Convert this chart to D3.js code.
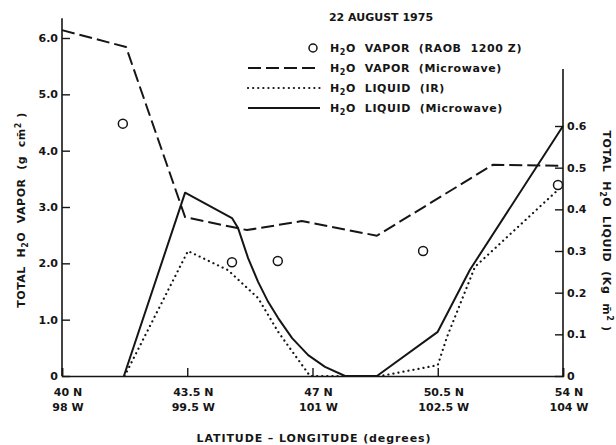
<!DOCTYPE html>
<html>
<head>
<meta charset="utf-8">
<script src="https://cdn.jsdelivr.net/npm/d3@7"></script>
<style>
body { margin: 0; background: #fff; }
text { font-family: "DejaVu Sans", sans-serif; font-weight: bold; fill: #151515; white-space: pre; }
</style>
</head>
<body>
<div id="chart"></div>
<script>
// tick positions along the flight track
var tickLat = [40, 43.5, 47, 50.5, 54];
var tickLon = ["98 W", "99.5 W", "101 W", "102.5 W", "104 W"];

// H2O vapor, microwave (g cm-2)
var vaporMwLat = [40, 41.79, 43.44, 45.17, 46.7, 48.8, 52.04, 54];
var vaporMw = [6.14, 5.84, 2.82, 2.59, 2.75, 2.49, 3.75, 3.73];

// H2O vapor, RAOB 1200 Z (g cm-2)
var raobLat = [41.7, 44.75, 46.03, 50.09, 53.86];
var raob = [4.48, 2.02, 2.04, 2.22, 3.39];

// H2O liquid, microwave (kg m-2)
var liquidMwLat = [41.73, 43.44, 44.75, 44.92, 45.2, 45.48, 45.76, 46.04, 46.43, 46.88, 47.35, 47.91, 48.8, 50.5, 51.4, 54];
var liquidMw = [0, 0.44, 0.379, 0.355, 0.283, 0.226, 0.178, 0.139, 0.091, 0.05, 0.022, 0, 0, 0.106, 0.255, 0.6];

// H2O liquid, IR (kg m-2)
var liquidIrLat = [41.75, 43.52, 44.64, 45.48, 46.04, 46.71, 46.93, 48.9, 50.5, 50.76, 51.54, 53.9];
var liquidIr = [0, 0.30, 0.254, 0.187, 0.106, 0.026, 0, 0, 0.026, 0.094, 0.262, 0.45];

var vaporTicks = [0, 1, 2, 3, 4, 5, 6];
var liquidTicks = [0, 0.1, 0.2, 0.3, 0.4, 0.5, 0.6];

var w = 616, h = 445;

var svg = d3.select("#chart").append("svg")
    .attr("width", w)
    .attr("height", h);

var x = d3.scaleLinear().domain([40, 54]).range([62, 563]);
var yL = d3.scaleLinear().domain([0, 6]).range([376, 38]);
var yR = d3.scaleLinear().domain([0, 0.6]).range([376, 126]);

function fmt(d) { return d === 0 ? "0" : d.toFixed(1); }

// left axis
var gl = svg.append("g")
    .attr("transform", "translate(" + x(40) + ",0)")
    .call(d3.axisLeft(yL).tickValues(vaporTicks).tickSize(-8).tickPadding(4).tickFormat(fmt));
gl.select(".domain").remove();
gl.append("line").attr("y1", yL(0)).attr("y2", yL(6.35)).attr("stroke", "#151515").attr("stroke-width", 1.6);

// right axis
var gr = svg.append("g")
    .attr("transform", "translate(" + x(54) + ",0)")
    .call(d3.axisRight(yR).tickValues(liquidTicks).tickSize(-8).tickPadding(4).tickFormat(fmt));
gr.select(".domain").remove();
gr.append("line").attr("y1", yR(0)).attr("y2", yR(0.737)).attr("stroke", "#151515").attr("stroke-width", 1.6);

// bottom axis
var gb = svg.append("g")
    .attr("transform", "translate(0," + yL(0) + ")")
    .call(d3.axisBottom(x).tickValues(tickLat).tickSize(-8).tickFormat(""));
gb.select(".domain").attr("stroke-width", 1.6).attr("stroke", "#151515");

svg.selectAll(".tick line").attr("stroke", "#151515").attr("stroke-width", 1.4);
svg.selectAll(".tick text").style("font-size", "11px").style("font-family", "DejaVu Sans, sans-serif").style("font-weight", "bold").attr("fill", "#151515");

var xl = svg.append("g");
tickLat.forEach(function(d, i) {
    var t = xl.append("text")
        .attr("text-anchor", "middle")
        .attr("y", yL(0) + 20)
        .style("font-size", "11px");
    t.append("tspan").attr("x", x(d) + 6).text(d + " N");
    t.append("tspan").attr("x", x(d) + 6).attr("dy", 15).text(tickLon[i]);
});

// lines
var lineStyle = [
    { lat: vaporMwLat, val: vaporMw, y: yL, dash: "13,5", cap: "butt" },
    { lat: liquidIrLat, val: liquidIr, y: yR, dash: "0.1,5", cap: "round" },
    { lat: liquidMwLat, val: liquidMw, y: yR, dash: null, cap: "butt" }
];
lineStyle.forEach(function(s) {
    var pts = s.lat.map(function(d, i) { return [d, s.val[i]]; });
    var line = d3.line()
        .x(function(p) { return x(p[0]); })
        .y(function(p) { return s.y(p[1]); });
    svg.append("path")
        .datum(pts)
        .attr("d", line)
        .attr("fill", "none")
        .attr("stroke", "#151515")
        .attr("stroke-width", s.cap === "round" ? 2.2 : 2)
        .attr("stroke-linecap", s.cap)
        .attr("stroke-linejoin", "round")
        .attr("stroke-dasharray", s.dash);
});

svg.selectAll(".raob")
    .data(raobLat)
    .enter()
    .append("circle")
    .attr("class", "raob")
    .attr("cx", function(d) { return x(d); })
    .attr("cy", function(d, i) { return yL(raob[i]); })
    .attr("r", 4.5)
    .attr("fill", "#fff")
    .attr("stroke", "#151515")
    .attr("stroke-width", 1.5);

// title
svg.append("text")
    .attr("x", 381)
    .attr("y", 21)
    .attr("text-anchor", "middle")
    .style("font-size", "11px")
    .text("22 AUGUST 1975");

// legend
var legend = [
    { kind: "circle", pre: "VAPOR", post: "(RAOB  1200 Z)" },
    { kind: "13,5", pre: "VAPOR", post: "(Microwave)" },
    { kind: "0.1,5", pre: "LIQUID", post: "(IR)" },
    { kind: "solid", pre: "LIQUID", post: "(Microwave)" }
];
legend.forEach(function(d, i) {
    var yy = 48 + i * 20;
    if (d.kind === "circle") {
        svg.append("circle").attr("cx", 313).attr("cy", yy).attr("r", 4)
            .attr("fill", "#fff").attr("stroke", "#151515").attr("stroke-width", 1.5);
    } else {
        svg.append("line").attr("x1", 248).attr("x2", 320).attr("y1", yy).attr("y2", yy)
            .attr("stroke", "#151515").attr("stroke-width", d.kind === "0.1,5" ? 2.2 : 2)
            .attr("stroke-linecap", d.kind === "0.1,5" ? "round" : "butt")
            .attr("stroke-dasharray", d.kind === "solid" ? null : d.kind);
    }
    var t = svg.append("text").attr("x", 330).attr("y", yy + 4)
        .style("font-size", "11px").style("letter-spacing", "0.6px");
    t.append("tspan").text("H");
    t.append("tspan").attr("dy", 3).style("font-size", "8px").text("2");
    t.append("tspan").attr("dy", -3).text("O  " + d.pre + "  " + d.post);
});

// axis titles
var tl = svg.append("text")
    .attr("transform", "translate(25,210) rotate(-90)")
    .attr("text-anchor", "middle")
    .style("font-size", "11px")
    .style("letter-spacing", "0.5px");
tl.append("tspan").text("TOTAL  H");
tl.append("tspan").attr("dy", 3).style("font-size", "8px").text("2");
tl.append("tspan").attr("dy", -3).text("O  VAPOR  (g  cm\u0304");
tl.append("tspan").attr("dy", -4).style("font-size", "8px").text("2");
tl.append("tspan").attr("dy", 4).text(" )");

var tr = svg.append("text")
    .attr("transform", "translate(603,231) rotate(90)")
    .attr("text-anchor", "middle")
    .style("font-size", "11px")
    .style("letter-spacing", "0.6px");
tr.append("tspan").text("TOTAL  H");
tr.append("tspan").attr("dy", 3).style("font-size", "8px").text("2");
tr.append("tspan").attr("dy", -3).text("O  LIQUID  (Kg  m\u0304");
tr.append("tspan").attr("dy", -4).style("font-size", "8px").text("2");
tr.append("tspan").attr("dy", 4).text(" )");

svg.append("text")
    .attr("x", 314)
    .attr("y", 442)
    .attr("text-anchor", "middle")
    .style("font-size", "11px")
    .style("letter-spacing", "0.9px")
    .text("LATITUDE \u2013 LONGITUDE (degrees)");
</script>
</body>
</html>
